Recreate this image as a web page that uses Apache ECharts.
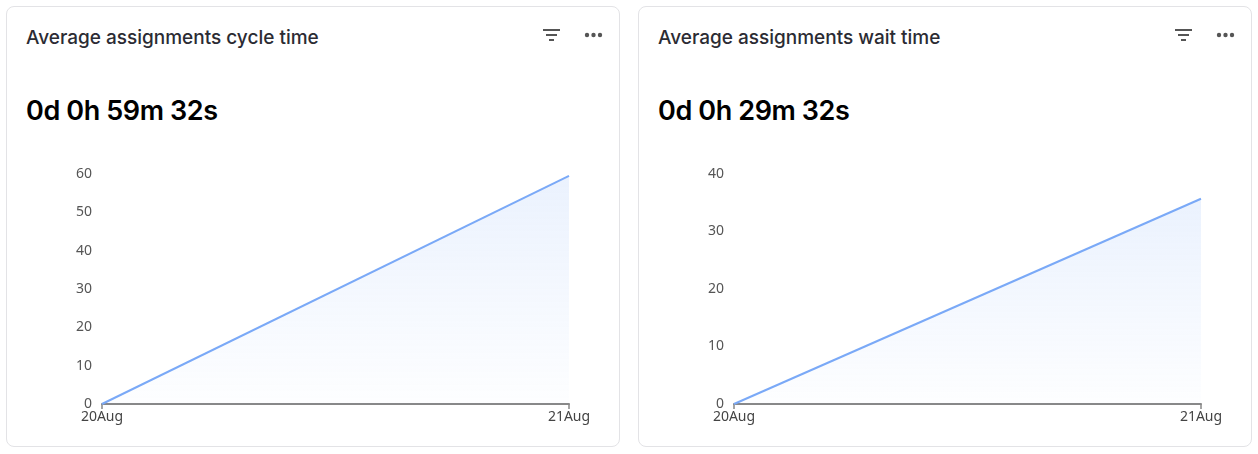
<!DOCTYPE html>
<html>
<head>
<meta charset="utf-8">
<script src="https://cdn.jsdelivr.net/npm/echarts@6/dist/echarts.min.js"></script>
<style>
html,body{margin:0;padding:0;background:#fff;width:1258px;height:454px;overflow:hidden;font-family:Inter,"Noto Sans",sans-serif;}
.card{position:absolute;top:6px;width:614px;height:441px;border:1px solid #e3e3e6;border-radius:8px;box-sizing:border-box;background:#fff;}
.title{position:absolute;left:19px;top:19px;font-size:19px;font-weight:500;color:#2b2b33;}
.value{position:absolute;left:19px;top:87px;font-size:27px;font-weight:600;color:#000;letter-spacing:-0.4px;}
.icons{position:absolute;top:20px;right:13px;}
.chart{position:absolute;left:0;top:134px;width:614px;height:306px;}
</style>
</head>
<body>
<div class="card" id="c1" style="left:6px;">
  <div class="title">Average assignments cycle time</div>
  <div class="value">0d 0h 59m 32s</div>
  <svg class="icons" width="70" height="16" viewBox="0 0 70 16">
    <rect x="7" y="2" width="17" height="2" fill="#555"/>
    <rect x="10" y="7" width="11" height="2" fill="#555"/>
    <rect x="13" y="12" width="5" height="2" fill="#555"/>
    <circle cx="51" cy="8" r="2.2" fill="#555"/><circle cx="57.5" cy="8" r="2.2" fill="#555"/><circle cx="64" cy="8" r="2.2" fill="#555"/>
  </svg>
  <div class="chart" id="chart1"></div>
</div>
<div class="card" id="c2" style="left:638px;">
  <div class="title">Average assignments wait time</div>
  <div class="value">0d 0h 29m 32s</div>
  <svg class="icons" width="70" height="16" viewBox="0 0 70 16">
    <rect x="7" y="2" width="17" height="2" fill="#555"/>
    <rect x="10" y="7" width="11" height="2" fill="#555"/>
    <rect x="13" y="12" width="5" height="2" fill="#555"/>
    <circle cx="51" cy="8" r="2.2" fill="#555"/><circle cx="57.5" cy="8" r="2.2" fill="#555"/><circle cx="64" cy="8" r="2.2" fill="#555"/>
  </svg>
  <div class="chart" id="chart2"></div>
</div>
<script>
var categories = ["20Aug", "21Aug"];
var cycleValues = [0, 59.5];
var waitValues = [0, 35.7];
var cycleAxisMax = 60;
var waitAxisMax = 40;

function makeOption(values, maxV) {
  return {
    animation: false,
    grid: {left: 95, right: 52, top: 33, bottom: 43},
    xAxis: {
      type: 'category', data: categories, boundaryGap: false,
      axisLine: {lineStyle: {color: '#888', width: 2}},
      axisTick: {show: true, alignWithLabel: true, length: 5, lineStyle: {color: '#888', width: 1.5}},
      axisLabel: {color: '#444', fontSize: 14, fontFamily: 'Noto Sans', margin: 6}
    },
    yAxis: {
      type: 'value', min: 0, max: maxV, interval: 10,
      splitLine: {show: false},
      axisLine: {show: false}, axisTick: {show: false},
      axisLabel: {color: '#555', fontSize: 14, fontFamily: 'Noto Sans', margin: 10}
    },
    series: [{
      type: 'line', data: values, showSymbol: false, symbol: 'none',
      lineStyle: {color: '#7aa9f7', width: 2},
      areaStyle: {color: new echarts.graphic.LinearGradient(0, 0, 0, 1, [
        {offset: 0, color: 'rgba(122,169,247,0.22)'},
        {offset: 1, color: 'rgba(122,169,247,0.02)'}
      ])}
    }]
  };
}
echarts.init(document.getElementById('chart1')).setOption(makeOption(cycleValues, cycleAxisMax));
echarts.init(document.getElementById('chart2')).setOption(makeOption(waitValues, waitAxisMax));
</script>
</body>
</html>
